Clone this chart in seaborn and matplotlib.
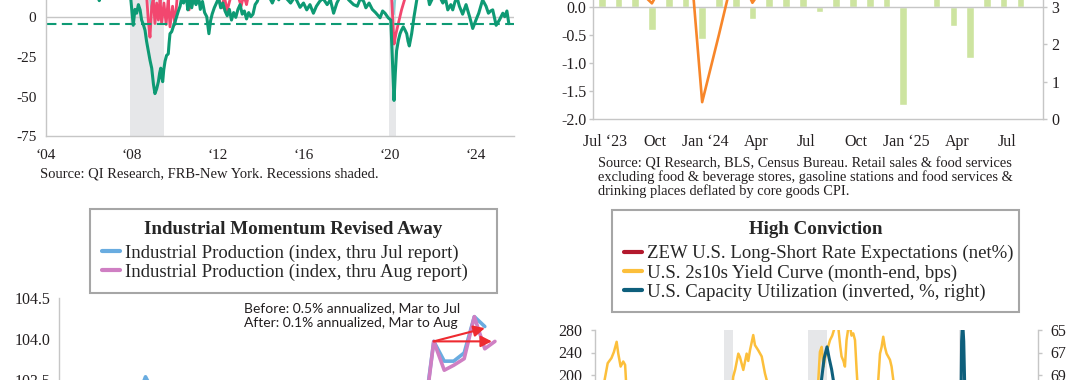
import numpy as np
import pandas as pd
import matplotlib
matplotlib.use('Agg')
import matplotlib.pyplot as plt
import seaborn as sns

sns.set_theme(style='white')
plt.rcParams['font.family'] = ['Liberation Serif', 'DejaVu Serif']
plt.rcParams['axes.unicode_minus'] = False

# ---------------- data ----------------
# panel 1 (top left): regional survey, decimal years
green_year = [2004.0, 2004.3, 2004.6, 2004.9, 2005.2, 2005.5, 2005.8, 2006.1, 2006.35, 2006.5, 2006.65, 2006.9,
              2007.2, 2007.5, 2007.75, 2007.95, 2008.08, 2008.16, 2008.24, 2008.32, 2008.4, 2008.47, 2008.55,
              2008.63, 2008.7, 2008.78, 2008.86, 2008.94, 2009.02, 2009.09, 2009.17, 2009.25, 2009.31, 2009.36,
              2009.41, 2009.45, 2009.5, 2009.56, 2009.63, 2009.71, 2009.75, 2009.79, 2009.87, 2009.94, 2010.02,
              2010.1, 2010.18, 2010.26, 2010.34, 2010.42, 2010.54, 2010.62, 2010.7, 2010.8, 2010.9, 2011.0,
              2011.1, 2011.2, 2011.3, 2011.4, 2011.5, 2011.6, 2011.68, 2011.75, 2011.85, 2011.95, 2012.05,
              2012.15, 2012.25, 2012.35, 2012.45, 2012.55, 2012.65, 2012.75, 2012.85, 2012.95, 2013.05,
              2013.15, 2013.25, 2013.35, 2013.45, 2013.55, 2013.65, 2013.75, 2013.85, 2013.95, 2014.1, 2014.3,
              2014.44, 2014.55, 2014.7, 2014.85, 2015.0, 2015.2, 2015.4, 2015.6, 2015.84, 2016.0, 2016.15,
              2016.3, 2016.46, 2016.6, 2016.75, 2016.9, 2017.1, 2017.25, 2017.4, 2017.55, 2017.7, 2017.9,
              2018.1, 2018.33, 2018.5, 2018.65, 2018.8, 2018.9, 2019.05, 2019.2, 2019.35, 2019.56, 2019.68,
              2019.79, 2019.94, 2020.06, 2020.15, 2020.21, 2020.27, 2020.33, 2020.41, 2020.49, 2020.56,
              2020.64, 2020.72, 2020.8, 2020.86, 2020.92, 2021.03, 2021.14, 2021.27, 2021.35, 2021.5, 2021.7,
              2021.86, 2022.0, 2022.1, 2022.3, 2022.48, 2022.6, 2022.71, 2022.85, 2022.94, 2023.05, 2023.15,
              2023.25, 2023.4, 2023.56, 2023.74, 2023.87, 2024.02, 2024.15, 2024.33, 2024.49, 2024.6,
              2024.7, 2024.8, 2024.96, 2025.11, 2025.27, 2025.36, 2025.46, 2025.55]
green_val = [28, 32, 22, 18, 15, 20, 16, 24, 18, 10.5, 20, 22,
             15, 24, 18, 14, -5, 5, 2.6, 8, 4.7, -1.7, -4.5,
             -8.2, -15, -21, -27, -32, -42, -48, -45, -40.5, -35, -32,
             -38, -40.5, -33, -27.6, -24, -23, -16, -10.3, -9, -6, -3,
             0.5, 4, 7, 13, 9, 14, 4.7, 12, 6, 13, 8,
             15, 5, 10, 3, 0.4, -10.3, -2, 2, 6, 9, 12,
             6, 9, 4, 1, 5, -1.7, 3, 0, 5, 8,
             2, 4, -1, 3, 0.4, 2, 8, 10, 14, 18, 15,
             12, 9, 14, 11, 16, 12, 9, 13, 6.3, 9, 4.7,
             8, 2.6, 7, 10, 12, 8, 11, 2.6, 9, 13, 15,
             11, 8, 7, 12, 10, 6, 9, 5, 3, -0.3, 4,
             2.6, -0.3, -1.7, -32, -52.3, -35, -21, -14.6, -10.3, -8,
             -6, -8, -10.3, -15, -18, -10.3, 0.4, 11, 20, 30, 20,
             8, 12, 18, 14, 9, 12, 4.7, 8, 4.7, 10, 12,
             7, 2, 8, -0.3, -7, -1.7, 2.6, 11, 7, 2.6,
             4, 4.7, -5, -1.7, 2.6, 0.4, 4, -4]
pink_year = [2004.0, 2005.0, 2006.0, 2007.0, 2007.9, 2008.3, 2008.71, 2008.78, 2008.86, 2008.94, 2009.01,
             2009.09, 2009.17, 2009.25, 2009.33, 2009.4, 2009.51, 2009.61, 2009.71, 2009.79, 2009.91, 2010.02,
             2010.12, 2010.3, 2010.55, 2010.68, 2010.8, 2011.2, 2011.6, 2012.0, 2012.2, 2012.32, 2012.45,
             2012.6, 2012.9, 2013.1, 2013.22, 2013.35, 2013.5, 2014.0, 2015.0, 2016.0, 2017.0, 2018.0,
             2019.0, 2019.9, 2020.1, 2020.21, 2020.3, 2020.41, 2020.56, 2020.72, 2021.0, 2022.0, 2023.0,
             2024.0, 2025.0, 2025.55]
pink_val = [30, 25, 28, 25, 18, 14, 12, -1.7, -12.5, 7, 12,
            -3.9, 9, -1.7, 12, -3.9, 9, -4.5, 12, -6, 7, -4.5,
            12, 18, 13, 4.7, 14, 20, 15, 14, 6, 13, 4.3,
            12, 16, 7, 14, 8, 18, 22, 18, 15, 25, 28,
            18, 14, 12, -16.8, -10.3, -3.9, 4.7, 12, 25, 22, 15,
            18, 16, 14]
cyan_year = [2004.0, 2006.0, 2008.0, 2008.85, 2008.94, 2009.05, 2010.0, 2014.0, 2018.0, 2020.1, 2020.19,
             2020.28, 2022.0, 2025.55]
cyan_val = [25, 22, 18, 14, 4, 14, 22, 20, 24, 14, 2, 14, 22, 18]
green_avg = -4.5
rec_top = [(2007.92, 2009.5), (2019.98, 2020.31)]
top_left_years = [2004, 2008, 2012, 2016, 2020, 2024]

# panel 2 (top right): monthly bars, Jul 2023 - Aug 2025
months = pd.period_range('2023-07', '2025-08', freq='M').astype(str).tolist()
bar_vals = [0.6, 0.8, 0.5, -0.42, 0.4, 0.7, -0.57, 0.6, 0.4, -0.22, 0.3, 0.6, 0.7,
            -0.09, 0.5, 0.9, 0.6, 0.7, -1.75, 0.0, 1.2, -0.35, -0.91, 0.5, 0.4, 0.6]
orange_vals = [0.5, 0.4, 0.35, 0.06, 0.6, 1.9, -1.7, -0.5, 0.75, 0.07, 0.5, 0.6, 0.4,
               0.5, 0.6, 0.8, 0.7, 0.6, 0.5, 0.4, 0.6, 0.5, 0.4, 0.5, 0.6, 0.5]
month_ticks = ['Jul \u201823', 'Oct', 'Jan \u201824', 'Apr', 'Jul', 'Oct', 'Jan \u201825', 'Apr', 'Jul']

# panel 3 (bottom left): industrial production index, monthly from Jan 2022
ip_jul = [102.0, 102.4, 102.9, 103.0, 103.1, 103.0, 103.1, 103.2, 103.54, 103.3, 103.0, 102.2,
          102.6, 102.5, 102.6, 103.0, 102.9, 102.7, 103.2, 103.0, 103.1, 102.4, 102.6, 102.8,
          101.7, 102.4, 102.3, 102.3, 102.9, 102.7, 102.0, 102.9, 102.6, 101.9, 102.6, 103.0,
          103.97, 103.73, 103.73, 103.83, 104.27, 104.15]
ip_aug = [101.9, 102.3, 102.8, 102.9, 103.0, 102.9, 103.0, 103.1, 103.35, 103.2, 102.9, 102.1,
          102.5, 102.4, 102.5, 102.9, 102.8, 102.6, 103.1, 102.9, 103.0, 102.3, 102.5, 102.7,
          101.6, 102.3, 102.2, 102.2, 102.8, 102.6, 101.9, 102.8, 102.5, 101.8, 102.5, 102.95,
          103.97, 103.62, 103.68, 103.76, 104.27, 103.88, 103.97]
ip_dates = pd.date_range('2022-01-01', periods=len(ip_aug), freq='MS')

# panel 4 (bottom right): rates and capacity utilization, decimal years
curve_year = [1991.0, 1991.3, 1991.55, 1991.8, 1992.1, 1992.3, 1992.52, 1992.65, 1992.84, 1993.05, 1993.2,
              1993.27, 1993.5, 1993.8, 1994.1, 1994.5, 1994.9, 1995.3, 1995.8, 1996.3, 1996.8, 1997.3,
              1997.8, 1998.3, 1998.8, 1999.3, 1999.8, 2000.3, 2000.8, 2001.2, 2001.5, 2001.75, 2001.89,
              2002.05, 2002.3, 2002.43, 2002.7, 2002.85, 2002.97, 2003.1, 2003.24, 2003.5, 2003.64, 2003.9,
              2004.18, 2004.44, 2004.58, 2004.8, 2005.1, 2005.5, 2005.9, 2006.3, 2006.8, 2007.3, 2007.7,
              2007.95, 2008.2, 2008.5, 2008.73, 2008.86, 2009.0, 2009.15, 2009.26, 2009.45, 2009.67, 2009.85,
              2010.07, 2010.2, 2010.33, 2010.5, 2010.6, 2010.75, 2010.87, 2011.0, 2011.15, 2011.27, 2011.4,
              2011.54, 2011.68, 2011.81, 2011.86, 2012.1, 2012.5, 2012.9, 2013.2, 2013.45, 2013.55, 2013.69,
              2013.82, 2013.95, 2014.08, 2014.22, 2014.49, 2014.62, 2014.76, 2015.0, 2015.5, 2016.0, 2016.5,
              2016.9, 2017.5, 2017.9, 2018.5, 2018.9, 2019.3, 2019.6, 2019.9, 2020.3, 2020.8, 2021.2, 2021.6,
              2021.9, 2022.3, 2022.6, 2022.9, 2023.3, 2023.6, 2023.9, 2024.3, 2024.7, 2024.9, 2025.3, 2025.6]
curve_val = [150, 170, 191, 221, 230, 241, 259, 238, 215, 224, 218,
             191, 160, 140, 120, 70, 20, 30, 20, 45, 50, 40,
             25, 15, 30, 30, 10, -30, -10, 60, 120, 160, 197,
             210, 238, 232, 209, 225, 238, 225, 244, 271, 253, 244,
             233, 203, 191, 150, 100, 40, 10, 0, -15, 0, 50,
             100, 130, 150, 191, 241, 250, 215, 230, 245, 262, 270,
             286, 290, 286, 250, 233, 225, 215, 262, 285, 288, 270,
             274, 262, 209, 191, 160, 140, 150, 170, 180, 191, 238,
             250, 268, 250, 238, 227, 215, 191, 150, 140, 120, 90,
             125, 90, 55, 30, 20, 15, -5, 30, 50, 70, 150, 110,
             80, 20, -30, -60, -80, -100, -40, -35, 10, 30, 45, 55]
zew_year = [1992.0, 1994.0, 1996.0, 1998.0, 2000.0, 2002.0, 2004.0, 2006.0, 2008.0, 2010.0, 2012.0,
            2014.0, 2016.0, 2018.0, 2020.0, 2022.0, 2024.0, 2025.6]
zew_val = [40, -20, 10, 0, -40, 50, 30, -10, 20, 60, 30, 40, 10, -20, 30, -50, -30, 20]
cap_year = [1991.0, 1992.0, 1994.0, 1995.0, 1997.0, 1998.0, 2000.0, 2001.5, 2002.0, 2003.5, 2005.0,
            2007.0, 2008.3, 2008.7, 2008.99, 2009.2, 2009.43, 2009.6, 2009.8, 2009.93, 2010.3, 2011.0,
            2012.0, 2014.0, 2015.0, 2016.0, 2017.0, 2018.5, 2019.5, 2020.0, 2020.17, 2020.25, 2020.33,
            2020.42, 2020.5, 2020.7, 2021.0, 2022.0, 2023.0, 2024.0, 2025.5]
cap_val = [79, 80, 83, 84, 84, 83, 81.5, 76, 75, 75.5, 79,
           79.5, 78, 73, 69.4, 67.5, 66.5, 67.5, 68.5, 69.4, 72, 75,
           76.5, 78, 77, 75.5, 76, 79, 77.5, 77, 75, 66, 64.2,
           66, 70, 73, 74.5, 79.5, 78.5, 77.5, 77.5]
rec_bottom = [(2001.17, 2001.89), (2007.92, 2009.42), (2020.08, 2020.33)]

# ---------------- colours ----------------
green = '#0e9a74'
pink = '#f2476f'
cyan = '#86d2d6'
bar_green = '#cde4a0'
orange = '#f7862a'
blue = '#69ace0'
orchid = '#cf7fc3'
gold = '#fcbf3b'
navy = '#0e5f7c'
wine = '#b3192d'
shade = '#e6e7e9'
spine_c = '#c6c6c6'
text_c = '#231f20'

fig = plt.figure(figsize=(10.8, 3.8), dpi=100)


def box(x0, x1, ytop, ybot):
    # pixel box of the 1080x380 canvas -> figure fraction
    return [x0 / 1080, 1 - ybot / 380, (x1 - x0) / 1080, (ybot - ytop) / 380]


def tidy(ax, right=False):
    for s in ['top', 'right', 'left', 'bottom']:
        ax.spines[s].set_visible(False)
    ax.spines['bottom'].set_visible(True)
    ax.spines['right' if right else 'left'].set_visible(True)
    for s in ax.spines.values():
        s.set_color(spine_c)
        s.set_linewidth(1.0)
    ax.tick_params(colors=spine_c, labelcolor=text_c, length=3, width=1, labelsize=11)
    ax.set_xlabel('')
    ax.set_ylabel('')
    ax.grid(False)


# ---------- panel 1 ----------
ax1 = fig.add_axes(box(45.5, 514, -62.1, 136.5))
for a, b in rec_top:
    ax1.axvspan(a, b, color=shade, lw=0)
ax1.axhline(0, color=spine_c, lw=1)
sns.lineplot(x=cyan_year, y=cyan_val, ax=ax1, color=cyan, lw=1.6)
sns.lineplot(x=pink_year, y=pink_val, ax=ax1, color=pink, lw=2.0)
sns.lineplot(x=green_year, y=green_val, ax=ax1, color=green, lw=2.2)
ax1.axhline(green_avg, color=green, lw=1.5, ls=(0, (5, 2.6)))
ax1.set_xlim(2004, 2025.79)
ax1.set_ylim(-75, 50)
ax1.set_yticks([-75, -50, -25, 0])
ax1.set_xticks(top_left_years)
ax1.set_xticklabels(['\u2018' + str(y)[2:] for y in top_left_years])
tidy(ax1)
ax1.tick_params(axis='x', pad=6)
fig.text(39.6 / 1080, 1 - 173.7 / 380, 'Source: QI Research, FRB-New York. Recessions shaded.',
         fontsize=10.5, color=text_c, va='center')

# ---------- panel 2 ----------
ax2 = fig.add_axes(box(593.3, 1043, -105.6, 119))
pos = np.arange(len(months))
sns.barplot(x=pos, y=bar_vals, ax=ax2, color=bar_green, saturation=1, width=0.46, native_scale=True)
ax2.axhline(0, color=spine_c, lw=1)
sns.lineplot(x=pos, y=orange_vals, ax=ax2, color=orange, lw=1.9)
ax2.set_xlim(-0.5, 26.35)
ax2.set_ylim(-2, 2)
left_ticks = [-2, -1.5, -1, -0.5, 0]
ax2.set_yticks(left_ticks)
ax2.set_yticklabels(['%.1f' % v for v in left_ticks])
ax2.set_xticks(pos[::3] + 0.2)
ax2.set_xticklabels(month_ticks)
tidy(ax2)
ax2.tick_params(axis='x', length=0, pad=11, labelsize=11.5)
ax2.tick_params(axis='y', labelsize=11.5, pad=2)
ax2r = ax2.twinx()
ax2r.set_ylim(0, 6)
ax2r.set_yticks([0, 1, 2, 3])
tidy(ax2r, right=True)
ax2r.spines['bottom'].set_visible(False)
ax2r.tick_params(labelsize=11.5, pad=3)
fig.text(598.5 / 1080, 1 - 177.5 / 380,
         'Source: QI Research, BLS, Census Bureau. Retail sales & food services\n'
         'excluding food & beverage stores, gasoline stations and food services &\n'
         'drinking places deflated by core goods CPI.',
         fontsize=10.4, color=text_c, va='center', linespacing=0.97)

# ---------- panel 3 ----------
ax3 = fig.add_axes(box(59, 500, 297.7, 544.9))
sns.lineplot(x=ip_dates[:len(ip_jul)], y=ip_jul, ax=ax3, color=blue, lw=2.6,
             label='Industrial Production (index, thru Jul report)')
sns.lineplot(x=ip_dates, y=ip_aug, ax=ax3, color=orchid, lw=2.6,
             label='Industrial Production (index, thru Aug report)')
ax3.set_xlim(pd.Timestamp('2021-12-19'), pd.Timestamp('2025-07-16'))
ax3.set_ylim(101.5, 104.5)
ip_ticks = [103.5, 104.0, 104.5]
ax3.set_yticks(ip_ticks)
ax3.set_yticklabels(['%.1f' % v for v in ip_ticks])
ax3.set_xticks([])
tidy(ax3)
ax3.tick_params(axis='y', labelsize=11.5, pad=3)
arrow = dict(arrowstyle='-|>,head_length=0.55,head_width=0.28', color='#ee2a30', lw=1.5,
             shrinkA=0, shrinkB=0)
start = (ip_dates[36], ip_aug[36])
ax3.annotate('', xy=(ip_dates[41], ip_jul[41] - 0.02), xytext=start, arrowprops=arrow)
ax3.annotate('', xy=(ip_dates[41] + pd.Timedelta(days=21), ip_aug[42]), xytext=start, arrowprops=arrow)
ax3.text(pd.Timestamp('2023-06-18'), 104.28,
         'Before: 0.5% annualized, Mar to Jul\nAfter: 0.1% annualized, Mar to Aug',
         family=['Lato', 'DejaVu Sans'], fontsize=10, color=text_c, va='center', linespacing=1.25)

leg_kw = dict(loc='upper left', bbox_transform=fig.transFigure, mode='expand', frameon=True,
              fancybox=False, framealpha=1, edgecolor='#a6a6a6', fontsize=13.5, borderpad=0.62,
              handlelength=1.0, handletextpad=0.25, labelspacing=0.1, borderaxespad=0,
              title_fontproperties={'weight': 'bold', 'size': 13.7})
leg3 = ax3.legend(title='Industrial Momentum Revised Away',
                  bbox_to_anchor=(90 / 1080, 1 - 209 / 380, 407 / 1080, 0), **leg_kw)
leg3.get_frame().set_linewidth(1.5)
leg3._legend_box.sep = 5
for h in leg3.get_lines():
    h.set_linewidth(3)

# ---------- panel 4 ----------
ax4 = fig.add_axes(box(595, 1037.5, 330, 555))
for a, b in rec_bottom:
    ax4.axvspan(a, b, color=shade, lw=0)
sns.lineplot(x=zew_year, y=zew_val, ax=ax4, color=wine, lw=1.8,
             label='ZEW U.S. Long-Short Rate Expectations (net%)')
sns.lineplot(x=curve_year, y=curve_val, ax=ax4, color=gold, lw=1.8,
             label='U.S. 2s10s Yield Curve (month-end, bps)')
ax4.set_xlim(1990.78, 2026.35)
ax4.set_ylim(-120, 280)
ax4.set_yticks([200, 240, 280])
ax4.set_xticks([])
tidy(ax4)
ax4.tick_params(axis='y', labelsize=11.5, pad=6)
ax4r = ax4.twinx()
sns.lineplot(x=cap_year, y=cap_val, ax=ax4r, color=navy, lw=2.2,
             label='U.S. Capacity Utilization (inverted, %, right)')
ax4r.set_ylim(85, 65)
ax4r.set_yticks([65, 67, 69])
tidy(ax4r, right=True)
ax4r.spines['bottom'].set_visible(False)
ax4r.tick_params(labelsize=11.5, pad=6)
h1, l1 = ax4.get_legend_handles_labels()
h2, l2 = ax4r.get_legend_handles_labels()
ax4r.get_legend().remove()
ax4.get_legend().remove()
leg4 = ax4r.legend(h1 + h2, l1 + l2, title='High Conviction',
                   bbox_to_anchor=(612 / 1080, 1 - 209.6 / 380, 407 / 1080, 0), **leg_kw)
leg4.get_frame().set_linewidth(1.5)
leg4._legend_box.sep = 5
for h in leg4.get_lines():
    h.set_linewidth(3)

fig.savefig('out.png', dpi=100)
